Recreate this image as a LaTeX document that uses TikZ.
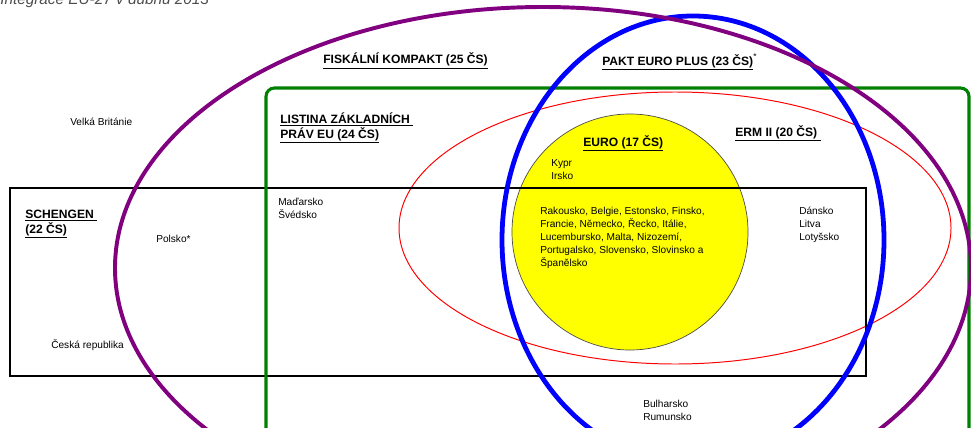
\documentclass[tikz,border=0pt]{standalone}
\usepackage{fontspec}
\setmainfont{Liberation Sans}
\definecolor{fiskal}{RGB}{128,0,128}
\definecolor{listina}{RGB}{0,128,0}
\definecolor{pakt}{RGB}{0,0,255}
\definecolor{erm}{RGB}{255,0,0}
\definecolor{euro}{RGB}{255,255,0}
\newcommand{\statfont}{\fontsize{7.2}{9.2}\selectfont}
\newcommand{\hlavafont}{\fontsize{8.6}{10.6}\selectfont\bfseries}
\tikzset{
  stat/.style={font=\statfont, anchor=base west, inner sep=0pt, align=left},
  hlava/.style={font=\hlavafont, anchor=base west, inner sep=0pt, align=left}
}
\begin{document}
\begin{tikzpicture}[x=0.025cm, y=-0.025cm]
  \useasboundingbox (0,0) rectangle (971,427);
  % Sets
  \draw [fill=euro, draw=black!70, line width=0.5pt] (630,232) circle [radius=118];
  \draw [erm, line width=0.7pt] (675,228) ellipse [x radius=276, y radius=136];
  \draw [black, line width=1.4pt] (10,188) rectangle (866,376);
  \draw [listina, line width=2.2pt, rounded corners=6pt] (266,88) rectangle (969,460);
  \draw [pakt, line width=3.4pt] (693,240) ellipse [x radius=191, y radius=224];
  \draw [fiskal, line width=2.8pt] (543,268) ellipse [x radius=428, y radius=261];
  % Nodes (multi-line nodes sit on their last baseline)
  \node (title) [anchor=base west, inner sep=0pt, text=black!70, font=\fontsize{10.9}{13}\selectfont\itshape] at (0,5) {Integrace EU-27 v dubnu 2013};
  \node (fiskal-t) [hlava] at (323,64) {\underline{FISKÁLNÍ KOMPAKT (25 ČS)}};
  \node (pakt-t) [hlava] at (602,65) {\underline{PAKT EURO PLUS (23 ČS)}\textsuperscript{\mdseries *}};
  \node (listina-t) [hlava] at (280,138) {\underline{LISTINA ZÁKLADNÍCH }\\\underline{PRÁV EU (24 ČS)}};
  \node (euro-t) [hlava] at (583,146) {\underline{EURO (17 ČS)}};
  \node (erm-t) [hlava] at (735,136) {\underline{ERM II (20 ČS) }};
  \node (schengen-t) [hlava] at (25,233) {\underline{SCHENGEN }\\\underline{(22 ČS)}};
  \node (velka) [stat] at (70,125) {Velká Británie};
  \node (kypr) [stat] at (551,179) {Kypr\\Irsko};
  \node (polsko) [stat] at (156,242) {Polsko*};
  \node (cesko) [stat] at (51,348) {Česká republika};
  \node (madarsko) [stat] at (278,218) {Maďarsko\\Švédsko};
  \node (euro-m) [stat] at (540,266) {Rakousko, Belgie, Estonsko, Finsko,\\Francie, Německo, Řecko, Itálie,\\Lucembursko, Malta, Nizozemí,\\Portugalsko, Slovensko, Slovinsko a\\Španělsko};
  \node (dansko) [stat] at (799,240) {Dánsko\\Litva\\Lotyšsko};
  \node (bulharsko) [stat] at (643,420) {Bulharsko\\Rumunsko};
\end{tikzpicture}
\end{document}
